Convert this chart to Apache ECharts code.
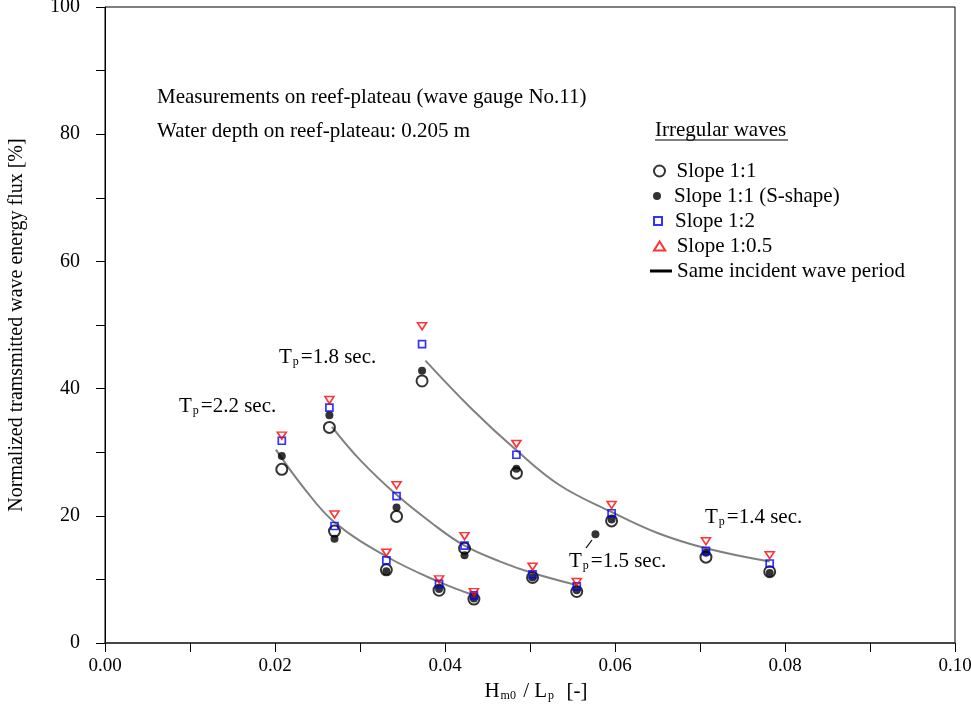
<!DOCTYPE html>
<html>
<head>
<meta charset="utf-8">
<script src="https://cdn.jsdelivr.net/npm/echarts@6/dist/echarts.min.js"></script>
<style>
  html, body { margin: 0; padding: 0; background: #fff; }
  #chart { width: 971px; height: 712px; }
</style>
</head>
<body>
<div id="chart"></div>
<script>
// Wave steepness Hm0/Lp of each test, grouped by incident peak period
const steepTp22 = [0.0208, 0.0270, 0.0331, 0.0393, 0.0434];
const steepTp18 = [0.0264, 0.0343, 0.0423, 0.0503, 0.0555];
const steepTp14 = [0.0373, 0.0484, 0.0596, 0.0707, 0.0782];
const steepTp15 = [0.0577];

// Normalized transmitted wave energy flux [%] per slope, same order as above
const slope11Tp22 = [27.3, 17.6, 11.5, 8.3, 6.9];
const slope11Tp18 = [33.9, 19.9, 14.9, 10.3, 8.1];
const slope11Tp14 = [41.2, 26.7, 19.2, 13.5, 11.2];

const slope11STp22 = [29.4, 16.4, 11.3, 8.5, 7.0];
const slope11STp18 = [35.8, 21.3, 13.8, 10.3, 8.3];
const slope11STp14 = [42.8, 27.4, 19.4, 14.2, 11.0];
const slope11STp15 = [17.1];

const slope12Tp22 = [31.8, 18.4, 13.0, 9.3, 7.5];
const slope12Tp18 = [37.0, 23.1, 15.3, 10.8, 8.9];
const slope12Tp14 = [47.0, 29.6, 20.4, 14.5, 12.5];

const slope105Tp22 = [32.6, 20.2, 14.2, 10.0, 8.0];
const slope105Tp18 = [38.2, 24.8, 16.8, 12.0, 9.6];
const slope105Tp14 = [49.8, 31.3, 21.7, 16.0, 13.8];

// Trend curves for the same incident wave period
const curveTp22X = [0.0201, 0.0235, 0.0270, 0.0331, 0.0393, 0.0434];
const curveTp22Y = [30.4, 24.2, 19.0, 13.6, 9.6, 7.5];
const curveTp18X = [0.0267, 0.0300, 0.0343, 0.0385, 0.0423, 0.0465, 0.0503, 0.0555];
const curveTp18Y = [34.0, 28.8, 23.3, 18.8, 15.3, 12.8, 11.0, 9.1];
const curveTp14X = [0.0377, 0.0430, 0.0484, 0.0535, 0.0596, 0.0650, 0.0707, 0.0782];
const curveTp14Y = [44.4, 37.0, 30.3, 24.8, 20.6, 17.3, 14.9, 12.8];

// Axis ticks
const xTicks = [0, 0.02, 0.04, 0.06, 0.08, 0.10];
const yTicks = [0, 20, 40, 60, 80, 100];

const FONT = '"Liberation Serif", "Times New Roman", serif';

function pairs(xs, ys) { return xs.map((x, i) => [x, ys[i]]); }
function concatPairs(list) { return list.reduce((acc, p) => acc.concat(pairs(p[0], p[1])), []); }

const openCircle = concatPairs([[steepTp22, slope11Tp22], [steepTp18, slope11Tp18], [steepTp14, slope11Tp14]]);
const filledCircle = concatPairs([[steepTp22, slope11STp22], [steepTp18, slope11STp18], [steepTp14, slope11STp14], [steepTp15, slope11STp15]]);
const squares = concatPairs([[steepTp22, slope12Tp22], [steepTp18, slope12Tp18], [steepTp14, slope12Tp14]]);
const triangles = concatPairs([[steepTp22, slope105Tp22], [steepTp18, slope105Tp18], [steepTp14, slope105Tp14]]);

const CURVE_NAME = 'Same incident wave period';
function curveSeries(xs, ys) {
  return {
    name: CURVE_NAME, type: 'line', data: pairs(xs, ys), smooth: 0.4,
    symbol: 'none', showSymbol: false, z: 1, silent: true,
    itemStyle: { color: '#000' },
    lineStyle: { color: '#808080', width: 2 }
  };
}

const sub = { fontSize: 12, fontFamily: FONT, fill: '#000', color: '#000', lineHeight: 12, verticalAlign: 'bottom', padding: [0, 2, 0, 1] };
const main = { fontSize: 21, fontFamily: FONT, fill: '#000', color: '#000', lineHeight: 24, verticalAlign: 'bottom' };

function periodLabel(x, y, period) {
  return {
    type: 'text', x: x, y: y, z: 10,
    style: {
      text: '{a|T}{s|p}{a|=' + period + ' sec.}',
      rich: { a: main, s: sub },
      verticalAlign: 'middle'
    }
  };
}

function legendRow(item, top, iw, ih, left, extra) {
  return Object.assign({
    data: [item], left: left, top: top, orient: 'vertical', padding: 0,
    itemWidth: iw, itemHeight: ih, selectedMode: false,
    textStyle: { fontSize: 21, fontFamily: FONT, color: '#000', lineHeight: 22 }
  }, extra || {});
}

const option = {
  animation: false,
  backgroundColor: '#fff',
  textStyle: { fontFamily: FONT },
  grid: {
    left: 105, right: 16, top: 7, bottom: 69,
    containLabel: false, outerBoundsMode: 'none',
    show: true, borderColor: '#000', borderWidth: 1, backgroundColor: 'transparent'
  },
  xAxis: {
    type: 'value', min: xTicks[0], max: xTicks[xTicks.length - 1], interval: 0.02,
    axisLine: { show: true, onZero: false, lineStyle: { color: '#333', width: 1.5 } },
    axisTick: { show: true, length: 9, lineStyle: { color: '#000' } },
    minorTick: { show: true, splitNumber: 2, length: 9, lineStyle: { color: '#000' } },
    splitLine: { show: false },
    axisLabel: { formatter: v => v.toFixed(2), fontSize: 19, fontFamily: FONT, color: '#000', margin: 14 },
    name: '{a|H}{s|m0}{a| / L}{s|p}{a|  [-]}',
    nameLocation: 'middle', nameGap: 35,
    nameTextStyle: { rich: { a: main, s: sub }, padding: [0, 0, 0, 12] }
  },
  yAxis: {
    type: 'value', min: yTicks[0], max: yTicks[yTicks.length - 1], interval: 20,
    axisLine: { show: true, onZero: false, lineStyle: { color: '#000', width: 1 } },
    axisTick: { show: true, length: 9, lineStyle: { color: '#000' } },
    minorTick: { show: true, splitNumber: 2, length: 9, lineStyle: { color: '#000' } },
    splitLine: { show: false },
    axisLabel: { fontSize: 20, fontFamily: FONT, color: '#000', margin: 25 },
    name: 'Normalized tramsmitted wave energy flux [%]',
    nameLocation: 'middle', nameGap: 78, nameRotate: 90,
    nameTextStyle: { fontSize: 20, fontFamily: FONT, color: '#000' }
  },
  legend: [
    legendRow('Slope 1:1', 160, 24, 11, 653),
    legendRow('Slope 1:1 (S-shape)', 185, 24, 8, 653),
    legendRow({ name: 'Slope 1:2', icon: 'path://M0,0L10,0L10,10L0,10Z' }, 210, 24, 8, 653),
    legendRow({ name: 'Slope 1:0.5', icon: 'path://M5,0L10,8L0,8Z' }, 235, 24, 9, 653),
    legendRow({ name: CURVE_NAME, icon: 'rect' }, 260, 22, 3, 650,
      { itemStyle: { color: '#000', borderWidth: 0 } })
  ],
  series: [
    curveSeries(curveTp22X, curveTp22Y),
    curveSeries(curveTp18X, curveTp18Y),
    curveSeries(curveTp14X, curveTp14Y),
    {
      name: 'Slope 1:1', type: 'scatter', data: openCircle, z: 3,
      symbol: 'circle', symbolSize: 11,
      itemStyle: { color: 'rgba(255,255,255,0)', borderColor: '#000', borderWidth: 2 }
    },
    {
      name: 'Slope 1:1 (S-shape)', type: 'scatter', data: filledCircle, z: 4,
      symbol: 'circle', symbolSize: 8,
      itemStyle: { color: '#000' }
    },
    {
      name: 'Slope 1:2', type: 'scatter', data: squares, z: 5,
      symbol: 'rect', symbolSize: 7,
      itemStyle: { color: 'rgba(255,255,255,0)', borderColor: '#0000ff', borderWidth: 1.7 }
    },
    {
      name: 'Slope 1:0.5', type: 'scatter', data: triangles, z: 6,
      symbol: 'path://M0,0L10,0L5,8Z', symbolSize: [9, 7],
      itemStyle: { color: 'rgba(255,255,255,0)', borderColor: '#ff0000', borderWidth: 1.6 }
    }
  ],
  graphic: [
    { type: 'text', x: 157, y: 97, z: 10, style: { text: 'Measurements on reef-plateau (wave gauge No.11)', font: '21px ' + FONT, fill: '#000', verticalAlign: 'middle' } },
    { type: 'text', x: 157, y: 131, z: 10, style: { text: 'Water depth on reef-plateau: 0.205 m', font: '21px ' + FONT, fill: '#000', verticalAlign: 'middle' } },
    { type: 'text', x: 655, y: 130, z: 10, style: { text: 'Irregular waves', font: '21px ' + FONT, fill: '#000', verticalAlign: 'middle' } },
    { type: 'line', z: 10, shape: { x1: 655, y1: 140, x2: 788, y2: 140 }, style: { stroke: '#000', lineWidth: 1.2 } },
    periodLabel(179, 405, '2.2'),
    periodLabel(279, 356, '1.8'),
    periodLabel(569, 560, '1.5'),
    periodLabel(705, 516, '1.4'),
    { type: 'line', z: 10, shape: { x1: 586, y1: 548, x2: 592, y2: 540 }, style: { stroke: '#000', lineWidth: 1.2 } }
  ]
};

const chart = echarts.init(document.getElementById('chart'), null, { renderer: 'canvas' });
chart.setOption(option);
</script>
</body>
</html>
